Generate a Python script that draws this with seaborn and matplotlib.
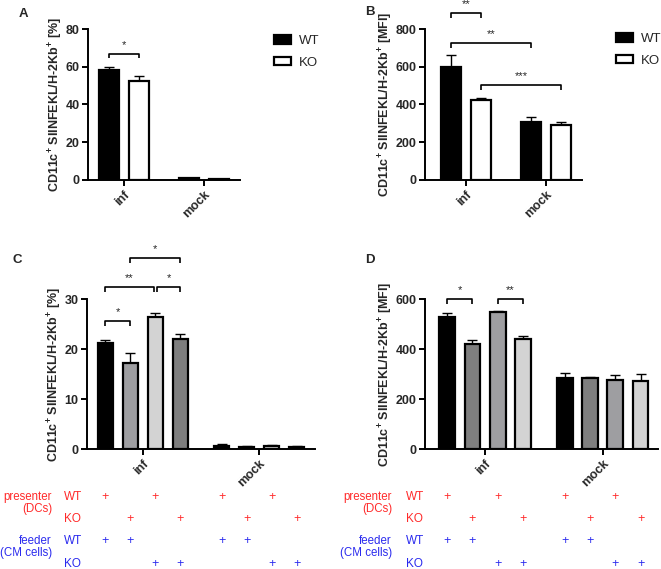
import numpy as np
import pandas as pd
import seaborn as sns
import matplotlib
matplotlib.use("Agg")
import matplotlib.pyplot as plt
from matplotlib import transforms

# ---------------- data ----------------
categories = ["inf", "mock"]
genotypes = ["WT", "KO"]

a_mean = {"WT": [58.5, 1.0], "KO": [52.5, 0.5]}
a_err = {"WT": [1.5, 0.3], "KO": [2.8, 0.2]}

b_mean = {"WT": [600, 305], "KO": [422, 290]}
b_err = {"WT": [60, 28], "KO": [13, 18]}

conditions = ["WT/WT", "KO/WT", "WT/KO", "KO/KO"]  # presenter/feeder
c_mean = {"WT/WT": [21.3, 0.7], "KO/WT": [17.3, 0.5], "WT/KO": [26.4, 0.6], "KO/KO": [22.1, 0.5]}
c_err = {"WT/WT": [0.5, 0.3], "KO/WT": [2.0, 0.1], "WT/KO": [0.9, 0.2], "KO/KO": [0.9, 0.1]}

d_mean = {"WT/WT": [528, 285], "KO/WT": [422, 285], "WT/KO": [547, 278], "KO/KO": [440, 274]}
d_err = {"WT/WT": [17, 20], "KO/WT": [13, 4], "WT/KO": [6, 17], "KO/KO": [13, 26]}

presenter_rows = ["WT", "KO"]
feeder_rows = ["WT", "KO"]

ylabel_pct = r"CD11c$^{\mathbf{+}}$ SIINFEKL/H-2Kb$^{\mathbf{+}}$ [%]"
ylabel_mfi = r"CD11c$^{\mathbf{+}}$ SIINFEKL/H-2Kb$^{\mathbf{+}}$ [MFI]"


def to_df(mean, err, hues):
    rows = []
    for h in hues:
        for i, c in enumerate(categories):
            rows.append({"cond": c, "grp": h, "val": mean[h][i], "err": err[h][i]})
    return pd.DataFrame(rows)


# ---------------- figure ----------------
sns.set_theme(style="ticks")
plt.rcParams["font.family"] = ["Liberation Sans", "DejaVu Sans"]
plt.rcParams["mathtext.fontset"] = "custom"
plt.rcParams["mathtext.rm"] = "Liberation Sans:bold"
plt.rcParams["mathtext.bf"] = "Liberation Sans:bold"
plt.rcParams["mathtext.it"] = "Liberation Sans:bold"

W, H = 661, 569
fig = plt.figure(figsize=(W / 100, H / 100), dpi=100)


def add_ax(l, t, r, b):
    return fig.add_axes([l / W, 1 - b / H, (r - l) / W, (b - t) / H])


def px2fig(x, y):
    return x / W, 1 - y / H


def style_axis(ax, ylim, yticks, xlim, ylabel):
    ax.set_ylim(*ylim)
    ax.set_xlim(*xlim)
    ax.set_yticks(yticks)
    ax.set_yticklabels([str(t) for t in yticks], fontsize=9, fontweight="bold")
    ax.set_xticks([0, 1])
    ax.set_xticklabels(categories, rotation=45, ha="right", rotation_mode="anchor",
                       fontsize=9, fontweight="bold")
    ax.set_xlabel("")
    ax.set_ylabel(ylabel, fontsize=9, fontweight="bold", labelpad=0.5)
    for s in ["top", "right"]:
        ax.spines[s].set_visible(False)
    for s in ["left", "bottom"]:
        ax.spines[s].set_linewidth(1.4)
        ax.spines[s].set_color("black")
    ax.tick_params(axis="both", width=1.4, length=4, color="black", pad=2)
    ax.set_facecolor("white")


def add_errbars(ax, df, hues):
    patches = list(ax.patches)[: len(hues) * len(categories)]
    k = 0
    centers = {}
    for h in hues:
        for i, c in enumerate(categories):
            p = patches[k]
            x = p.get_x() + p.get_width() / 2
            y = p.get_height()
            e = df[(df.grp == h) & (df.cond == c)]["err"].iloc[0]
            ax.errorbar(x, y, yerr=[[0], [e]], fmt="none", ecolor="black",
                        elinewidth=1.0, capsize=3.5, capthick=1.0, zorder=1)
            centers[(h, c)] = x
            k += 1
    return centers


def bracket(ax, x1, x2, y, h, text, fs=8):
    ax.plot([x1, x1, x2, x2], [y - h, y, y, y - h], color="black", lw=1.2,
            clip_on=False, solid_capstyle="butt")
    ax.text((x1 + x2) / 2, y + h * 0.8, text, ha="center", va="bottom",
            fontsize=fs, clip_on=False)


LEG = dict(frameon=False, title=None, fontsize=9.5, handlelength=1.3, handleheight=0.6,
           labelspacing=0.75, handletextpad=0.6, borderpad=0, borderaxespad=0)

# ---------- Panel A ----------
axA = add_ax(88, 29, 240, 180)
dfA = to_df(a_mean, a_err, genotypes)
sns.barplot(data=dfA, x="cond", y="val", hue="grp", order=categories, hue_order=genotypes,
            palette={"WT": "black", "KO": "white"}, errorbar=None, width=0.75, gap=0.33,
            edgecolor="black", linewidth=1.6, ax=axA, zorder=2)
cA = add_errbars(axA, dfA, genotypes)
style_axis(axA, (0, 80), [0, 20, 40, 60, 80], (-0.45, 1.45), ylabel_pct)
sns.move_legend(axA, "upper left", bbox_to_anchor=px2fig(274, 35), bbox_transform=fig.transFigure, **LEG)
bracket(axA, cA[("WT", "inf")], cA[("KO", "inf")], 67, 2.5, "*")

# ---------- Panel B ----------
axB = add_ax(425, 29, 582, 180)
dfB = to_df(b_mean, b_err, genotypes)
sns.barplot(data=dfB, x="cond", y="val", hue="grp", order=categories, hue_order=genotypes,
            palette={"WT": "black", "KO": "white"}, errorbar=None, width=0.75, gap=0.33,
            edgecolor="black", linewidth=1.6, ax=axB, zorder=2)
cB = add_errbars(axB, dfB, genotypes)
style_axis(axB, (0, 800), [0, 200, 400, 600, 800], (-0.51, 1.45), ylabel_mfi)
sns.move_legend(axB, "upper left", bbox_to_anchor=px2fig(616, 33), bbox_transform=fig.transFigure, **LEG)
bracket(axB, cB[("WT", "inf")], cB[("KO", "inf")], 885, 25, "**")
bracket(axB, cB[("WT", "inf")], cB[("WT", "mock")], 726, 25, "**")
bracket(axB, cB[("KO", "inf")], cB[("KO", "mock")], 503, 25, "***")

# ---------- Panel C ----------
axC = add_ax(87, 299, 315, 449)
dfC = to_df(c_mean, c_err, conditions)
palC = {"WT/WT": "black", "KO/WT": "#9d9da2", "WT/KO": "#d3d3d3", "KO/KO": "#7e7e7e"}
sns.barplot(data=dfC, x="cond", y="val", hue="grp", order=categories, hue_order=conditions,
            palette=palC, errorbar=None, width=0.86, gap=0.38, legend=False,
            edgecolor="black", linewidth=1.6, ax=axC, zorder=2)
cC = add_errbars(axC, dfC, conditions)
style_axis(axC, (0, 30), [0, 10, 20, 30], (-0.48, 1.48), ylabel_pct)
bracket(axC, cC[("WT/WT", "inf")], cC[("KO/WT", "inf")], 25.6, 1.0, "*")
bracket(axC, cC[("WT/WT", "inf")], cC[("WT/KO", "inf")] - 0.015, 32.4, 1.0, "**")
bracket(axC, cC[("WT/KO", "inf")] + 0.015, cC[("KO/KO", "inf")], 32.4, 1.0, "*")
bracket(axC, cC[("KO/WT", "inf")], cC[("KO/KO", "inf")], 38.2, 1.0, "*")

# ---------- Panel D ----------
axD = add_ax(425, 299, 658, 449)
dfD = to_df(d_mean, d_err, conditions)
palD = {"WT/WT": "black", "KO/WT": "#7f7f7f", "WT/KO": "#9d9da2", "KO/KO": "#d3d3d3"}
sns.barplot(data=dfD, x="cond", y="val", hue="grp", order=categories, hue_order=conditions,
            palette=palD, errorbar=None, width=0.86, gap=0.38, legend=False,
            edgecolor="black", linewidth=1.6, ax=axD, zorder=2)
cD = add_errbars(axD, dfD, conditions)
style_axis(axD, (0, 600), [0, 200, 400, 600], (-0.51, 1.47), ylabel_mfi)
bracket(axD, cD[("WT/WT", "inf")], cD[("KO/WT", "inf")], 600, 20, "*")
bracket(axD, cD[("WT/KO", "inf")], cD[("KO/KO", "inf")], 600, 20, "**")

# ---------- panel letters ----------
for letter, (x, y) in zip("ABCD", [(23, 14), (370, 12), (17, 260), (370, 260)]):
    fx, fy = px2fig(x, y)
    fig.text(fx, fy, letter, fontsize=9.5, fontweight="bold", ha="center", va="center")

# ---------- condition tables ----------
RED = "#ff2a2a"
BLUE = "#2a2aee"


def cond_table(ax, centers, lab_right, row_x):
    tr = transforms.blended_transform_factory(ax.transData, fig.transFigure)
    ys = [497, 519, 541, 564]
    fx, fy = px2fig(lab_right, 503)
    fig.text(fx, fy, "presenter\n(DCs)", color=RED, ha="right", va="center", fontsize=8.3,
             linespacing=1.0)
    fx, fy = px2fig(lab_right, 547)
    fig.text(fx, fy, "feeder\n(CM cells)", color=BLUE, ha="right", va="center", fontsize=8.3,
             linespacing=1.0)
    for j, (lab, col) in enumerate([(presenter_rows[0], RED), (presenter_rows[1], RED),
                                    (feeder_rows[0], BLUE), (feeder_rows[1], BLUE)]):
        fx, fy = px2fig(row_x, ys[j])
        fig.text(fx, fy, lab, color=col, ha="left", va="center", fontsize=8.5)
    for cat in categories:
        for h in conditions:
            pres, feed = h.split("/")
            x = centers[(h, cat)]
            yp = ys[0] if pres == "WT" else ys[1]
            yf = ys[2] if feed == "WT" else ys[3]
            ax.text(x, 1 - yp / H, "+", color=RED, transform=tr, ha="center", va="center",
                    fontsize=9)
            ax.text(x, 1 - yf / H, "+", color=BLUE, transform=tr, ha="center", va="center",
                    fontsize=9)


cond_table(axC, cC, 52, 64)
cond_table(axD, cD, 392, 406)

fig.savefig("out.png", dpi=100, facecolor="white")
